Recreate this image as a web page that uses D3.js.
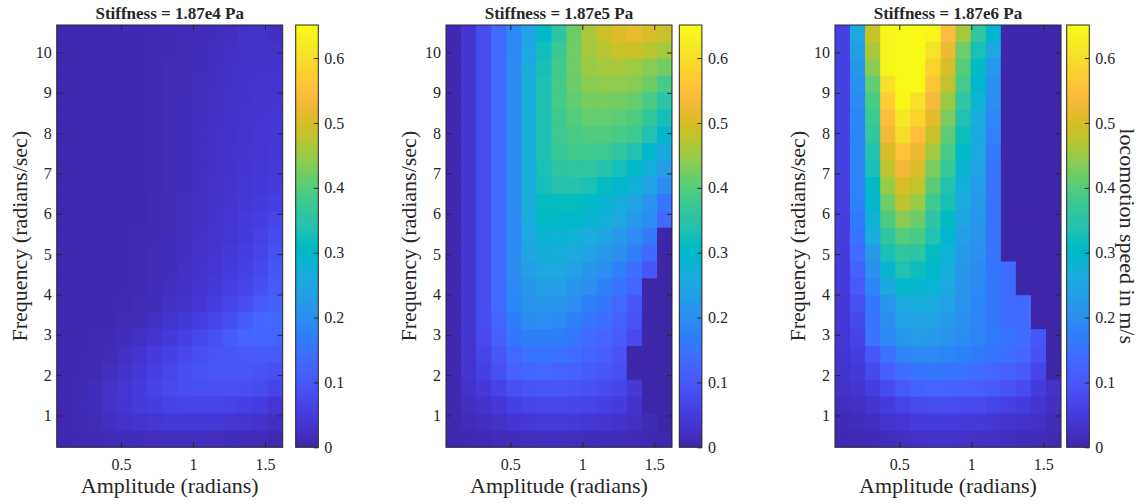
<!DOCTYPE html>
<html>
<head>
<meta charset="utf-8">
<script src="https://cdn.jsdelivr.net/npm/d3@7"></script>
<style>
  body { margin: 0; background: #ffffff; }
  svg text { font-family: "Liberation Serif", "Times New Roman", Times, serif; fill: #262626; }
</style>
</head>
<body>
<svg id="chart" width="1144" height="504"></svg>
<script>
// Sweep grid: amplitude columns (radians) and frequency rows (radians/sec, top row first)
const amplitude = [0.105, 0.209, 0.314, 0.419, 0.524, 0.628, 0.733, 0.838, 0.942, 1.047, 1.152, 1.257, 1.361, 1.466, 1.571];
const frequency = [10.472, 10.053, 9.634, 9.215, 8.796, 8.378, 7.959, 7.540, 7.121, 6.702, 6.283, 5.864, 5.445,
                   5.027, 4.608, 4.189, 3.770, 3.351, 2.932, 2.513, 2.094, 1.676, 1.257, 0.838, 0.419];

// Tick values
const xTicks = [0.5, 1, 1.5];
const yTicks = [1, 2, 3, 4, 5, 6, 7, 8, 9, 10];
const colorTicks = [0, 0.1, 0.2, 0.3, 0.4, 0.5, 0.6];
const colorMax = 0.651;

const titles = ["Stiffness = 1.87e4 Pa", "Stiffness = 1.87e5 Pa", "Stiffness = 1.87e6 Pa"];

// Locomotion speed (m/s), one row per frequency, one column per amplitude
const speedSoft = [
  [0.004,0.004,0.005,0.006,0.008,0.009,0.010,0.012,0.013,0.015,0.018,0.022,0.028,0.030,0.022],
  [0.004,0.004,0.005,0.006,0.008,0.009,0.010,0.012,0.014,0.016,0.020,0.024,0.028,0.030,0.028],
  [0.004,0.004,0.005,0.006,0.008,0.009,0.011,0.013,0.015,0.018,0.022,0.026,0.030,0.032,0.032],
  [0.004,0.004,0.005,0.006,0.008,0.009,0.011,0.013,0.016,0.019,0.023,0.027,0.031,0.034,0.035],
  [0.004,0.004,0.005,0.006,0.007,0.009,0.011,0.013,0.016,0.020,0.024,0.028,0.033,0.036,0.038],
  [0.004,0.004,0.005,0.006,0.007,0.009,0.011,0.013,0.017,0.020,0.025,0.029,0.034,0.037,0.040],
  [0.004,0.004,0.005,0.006,0.007,0.009,0.011,0.014,0.017,0.021,0.026,0.030,0.035,0.039,0.042],
  [0.004,0.004,0.005,0.006,0.007,0.009,0.011,0.014,0.017,0.021,0.026,0.031,0.036,0.040,0.044],
  [0.004,0.004,0.005,0.006,0.007,0.009,0.011,0.014,0.018,0.022,0.027,0.032,0.037,0.042,0.047],
  [0.004,0.004,0.005,0.006,0.007,0.009,0.011,0.014,0.018,0.023,0.028,0.034,0.040,0.045,0.052],
  [0.004,0.004,0.005,0.006,0.007,0.009,0.012,0.015,0.019,0.024,0.030,0.036,0.043,0.050,0.058],
  [0.004,0.004,0.005,0.006,0.007,0.009,0.012,0.015,0.020,0.025,0.032,0.039,0.047,0.056,0.068],
  [0.004,0.004,0.005,0.006,0.008,0.010,0.012,0.016,0.021,0.027,0.034,0.042,0.052,0.063,0.080],
  [0.004,0.004,0.005,0.006,0.008,0.010,0.013,0.017,0.022,0.028,0.036,0.045,0.056,0.068,0.088],
  [0.004,0.004,0.005,0.006,0.008,0.010,0.014,0.018,0.024,0.031,0.040,0.050,0.062,0.076,0.098],
  [0.004,0.004,0.005,0.006,0.008,0.011,0.015,0.020,0.027,0.035,0.046,0.057,0.068,0.084,0.106],
  [0.005,0.005,0.006,0.007,0.010,0.013,0.018,0.025,0.032,0.040,0.055,0.070,0.082,0.105,0.120],
  [0.006,0.006,0.006,0.009,0.013,0.018,0.025,0.035,0.045,0.055,0.070,0.083,0.110,0.130,0.135],
  [0.006,0.006,0.010,0.012,0.018,0.025,0.035,0.046,0.058,0.074,0.088,0.110,0.125,0.130,0.130],
  [0.006,0.007,0.010,0.016,0.025,0.035,0.047,0.060,0.072,0.085,0.097,0.100,0.105,0.105,0.105],
  [0.006,0.008,0.012,0.020,0.030,0.044,0.058,0.072,0.085,0.095,0.100,0.100,0.100,0.095,0.085],
  [0.007,0.010,0.018,0.028,0.040,0.052,0.066,0.078,0.085,0.088,0.088,0.088,0.086,0.080,0.068],
  [0.008,0.012,0.018,0.028,0.037,0.047,0.055,0.064,0.067,0.068,0.068,0.065,0.060,0.054,0.040],
  [0.006,0.010,0.015,0.022,0.030,0.035,0.040,0.043,0.044,0.044,0.043,0.040,0.036,0.032,0.022],
  [0.005,0.007,0.010,0.014,0.017,0.018,0.019,0.020,0.020,0.020,0.019,0.018,0.016,0.014,0.010]
];

const speedMedium = [
  [0.009,0.036,0.083,0.138,0.190,0.245,0.305,0.355,0.420,0.462,0.490,0.505,0.520,0.505,0.488],
  [0.009,0.036,0.083,0.138,0.192,0.252,0.325,0.375,0.423,0.460,0.475,0.490,0.492,0.475,0.462],
  [0.009,0.036,0.083,0.138,0.195,0.262,0.330,0.385,0.422,0.452,0.460,0.462,0.455,0.440,0.425],
  [0.009,0.036,0.083,0.138,0.195,0.270,0.335,0.387,0.420,0.440,0.445,0.445,0.437,0.421,0.390],
  [0.009,0.036,0.083,0.138,0.195,0.270,0.337,0.387,0.410,0.427,0.428,0.424,0.414,0.390,0.352],
  [0.009,0.036,0.083,0.138,0.195,0.270,0.335,0.380,0.400,0.413,0.413,0.407,0.397,0.365,0.328],
  [0.009,0.036,0.083,0.138,0.195,0.270,0.335,0.378,0.390,0.398,0.398,0.390,0.380,0.338,0.298],
  [0.009,0.036,0.083,0.138,0.195,0.270,0.337,0.370,0.382,0.382,0.378,0.360,0.338,0.300,0.262],
  [0.009,0.036,0.083,0.138,0.195,0.270,0.332,0.360,0.363,0.360,0.345,0.328,0.302,0.275,0.235],
  [0.009,0.036,0.083,0.138,0.195,0.268,0.328,0.345,0.343,0.332,0.315,0.300,0.280,0.245,0.200],
  [0.009,0.036,0.083,0.138,0.195,0.265,0.315,0.316,0.315,0.305,0.290,0.275,0.250,0.215,0.155],
  [0.009,0.036,0.083,0.138,0.195,0.262,0.305,0.303,0.300,0.290,0.275,0.255,0.225,0.200,0.135],
  [0.009,0.036,0.083,0.138,0.195,0.255,0.285,0.285,0.280,0.265,0.250,0.225,0.200,0.165,0],
  [0.009,0.036,0.083,0.138,0.195,0.248,0.272,0.272,0.262,0.248,0.228,0.207,0.175,0.137,0],
  [0.009,0.036,0.083,0.138,0.195,0.235,0.255,0.255,0.240,0.222,0.205,0.175,0.145,0.100,0],
  [0.009,0.036,0.083,0.138,0.190,0.222,0.238,0.235,0.222,0.205,0.175,0.155,0.130,0,0],
  [0.009,0.036,0.083,0.135,0.185,0.210,0.218,0.212,0.200,0.175,0.160,0.135,0.100,0,0],
  [0.009,0.036,0.083,0.127,0.170,0.195,0.200,0.193,0.175,0.158,0.145,0.120,0.095,0,0],
  [0.009,0.036,0.078,0.115,0.155,0.172,0.172,0.168,0.160,0.140,0.125,0.110,0.078,0,0],
  [0.009,0.036,0.068,0.100,0.135,0.150,0.155,0.150,0.140,0.127,0.115,0.097,0,0,0],
  [0.009,0.036,0.060,0.088,0.117,0.130,0.133,0.128,0.120,0.110,0.100,0.088,0,0,0],
  [0.008,0.030,0.045,0.066,0.088,0.097,0.100,0.100,0.097,0.090,0.080,0.070,0.045,0,0],
  [0.007,0.022,0.032,0.044,0.060,0.067,0.073,0.073,0.070,0.067,0.060,0.050,0.030,0,0],
  [0.005,0.014,0.020,0.028,0.038,0.043,0.048,0.048,0.045,0.040,0.038,0.032,0.025,0.012,0],
  [0.004,0.008,0.011,0.014,0.018,0.020,0.022,0.022,0.020,0.018,0.017,0.015,0.012,0.008,0.006]
];

const speedStiff = [
  [0.062,0.255,0.490,0.640,0.648,0.648,0.640,0.545,0.462,0.360,0.295,0,0,0,0],
  [0.062,0.238,0.465,0.640,0.648,0.648,0.610,0.525,0.422,0.332,0.255,0,0,0,0],
  [0.062,0.220,0.440,0.640,0.648,0.648,0.585,0.503,0.402,0.305,0.225,0,0,0,0],
  [0.062,0.205,0.410,0.607,0.648,0.648,0.560,0.483,0.388,0.298,0.208,0,0,0,0],
  [0.061,0.195,0.390,0.575,0.645,0.605,0.535,0.452,0.360,0.285,0.200,0,0,0,0],
  [0.060,0.187,0.380,0.548,0.620,0.585,0.515,0.432,0.338,0.268,0.190,0,0,0,0],
  [0.060,0.185,0.362,0.530,0.598,0.550,0.490,0.408,0.322,0.260,0.180,0,0,0,0],
  [0.060,0.185,0.340,0.503,0.560,0.525,0.460,0.390,0.303,0.252,0.168,0,0,0,0],
  [0.060,0.183,0.330,0.480,0.530,0.505,0.430,0.370,0.290,0.240,0.160,0,0,0,0],
  [0.058,0.180,0.305,0.452,0.505,0.482,0.405,0.340,0.275,0.232,0.155,0,0,0,0],
  [0.057,0.177,0.300,0.422,0.478,0.450,0.380,0.330,0.265,0.225,0.155,0,0,0,0],
  [0.055,0.165,0.280,0.397,0.440,0.420,0.355,0.310,0.250,0.218,0.155,0,0,0,0],
  [0.053,0.155,0.265,0.360,0.402,0.390,0.340,0.295,0.237,0.210,0.155,0,0,0,0],
  [0.051,0.140,0.225,0.332,0.362,0.355,0.315,0.282,0.228,0.202,0.158,0,0,0,0],
  [0.049,0.120,0.205,0.290,0.338,0.322,0.300,0.270,0.220,0.195,0.160,0.140,0,0,0],
  [0.047,0.105,0.185,0.255,0.300,0.293,0.285,0.255,0.215,0.190,0.160,0.140,0,0,0],
  [0.044,0.088,0.160,0.220,0.262,0.270,0.265,0.240,0.210,0.185,0.160,0.140,0.138,0,0],
  [0.042,0.075,0.150,0.200,0.240,0.245,0.240,0.225,0.205,0.180,0.160,0.140,0.136,0,0],
  [0.040,0.065,0.150,0.190,0.222,0.232,0.228,0.210,0.195,0.180,0.165,0.155,0.140,0.100,0],
  [0.038,0.055,0.100,0.150,0.180,0.190,0.190,0.185,0.175,0.165,0.155,0.145,0.130,0.090,0],
  [0.033,0.045,0.075,0.115,0.140,0.155,0.160,0.155,0.150,0.142,0.130,0.120,0.105,0.070,0],
  [0.028,0.036,0.055,0.080,0.105,0.120,0.125,0.122,0.120,0.115,0.105,0.095,0.080,0.050,0.030],
  [0.020,0.025,0.036,0.052,0.068,0.078,0.082,0.082,0.080,0.078,0.070,0.060,0.050,0.036,0.022],
  [0.012,0.018,0.022,0.034,0.040,0.047,0.050,0.050,0.048,0.045,0.040,0.035,0.030,0.024,0.016],
  [0.008,0.010,0.012,0.018,0.022,0.028,0.030,0.030,0.028,0.027,0.024,0.020,0.018,0.015,0.010]
];

// Parula colour map, 64 steps
const parula = ["#3e26a8","#402ab4","#422ebf","#4332cb","#4537d5","#463cde","#4741e5","#4747eb",
  "#484df0","#4852f4","#4758f8","#465efb","#4563fd","#4269fe","#3e6fff","#3875fe",
  "#327cfc","#2f81f9","#2d87f7","#2d8cf3","#2b91ef","#2796eb","#259be7","#23a0e5",
  "#20a5e2","#1ca9df","#18addb","#11b1d6","#08b4d0","#01b8ca","#02bac3","#0bbdbc",
  "#19bfb6","#24c1ae","#2cc3a7","#31c69f","#37c897","#3fca8e","#4acb84","#57cc7a",
  "#64cd6f","#71cc64","#80cc59","#8fcb4e","#9dc943","#abc739","#b9c431","#c5c22a",
  "#d1bf27","#dcbd29","#e6bb2d","#efba36","#f8ba3d","#febe3c","#fec338","#fec934",
  "#fccf30","#f9d62d","#f7dc2a","#f5e327","#f5e924","#f5ef20","#f7f51b","#f9fb15"];

const speedPanels = [speedSoft, speedMedium, speedStiff];

const svg = d3.select("#chart");
const defs = svg.append("defs");
const ink = "#262626";

// Panel geometry
const plotLeft = [56.7, 446, 835];
const barLeft = [295.7, 679.3, 1066.7];
const plotTop = 25, plotH = 422.3, plotW = 226, barW = 22.6;

const color = d3.scaleSequential(d3.piecewise(d3.interpolateRgb, parula)).domain([0, colorMax]);

const dA = amplitude[1] - amplitude[0];
const dF = frequency[0] - frequency[1];
const fMin = d3.min(frequency), fMax = d3.max(frequency);

speedPanels.forEach((grid, p) => {
  const x = d3.scaleLinear()
    .domain([amplitude[0] - dA / 2, amplitude[amplitude.length - 1] + dA / 2])
    .range([plotLeft[p], plotLeft[p] + plotW]);
  const y = d3.scaleLinear()
    .domain([fMin - dF / 2, fMax + dF / 2])
    .range([plotTop + plotH, plotTop]);

  defs.append("clipPath").attr("id", `plot-clip-${p}`)
    .append("rect").attr("x", plotLeft[p]).attr("y", plotTop).attr("width", plotW).attr("height", plotH);

  const cells = [];
  grid.forEach((row, i) => row.forEach((v, j) => cells.push({ a: amplitude[j], f: frequency[i], v })));

  // Heat-map cells, each overlapping its neighbour by 1px so no seams show
  svg.append("g").attr("clip-path", `url(#plot-clip-${p})`)
    .selectAll("rect").data(cells).join("rect")
    .attr("x", d => x(d.a - dA / 2))
    .attr("y", d => y(d.f + dF / 2))
    .attr("width", d => x(d.a + dA / 2) - x(d.a - dA / 2) + 1)
    .attr("height", d => y(d.f - dF / 2) - y(d.f + dF / 2) + 1)
    .attr("fill", d => color(d.v));

  // Axes with inward ticks on all four sides
  const bottom = svg.append("g").attr("transform", `translate(0,${plotTop + plotH})`)
    .call(d3.axisBottom(x).tickValues(xTicks).tickSize(-5).tickPadding(11).tickFormat(d3.format("~g")));
  const top = svg.append("g").attr("transform", `translate(0,${plotTop})`)
    .call(d3.axisTop(x).tickValues(xTicks).tickSize(-5).tickFormat(""));
  const left = svg.append("g").attr("transform", `translate(${plotLeft[p]},0)`)
    .call(d3.axisLeft(y).tickValues(yTicks).tickSize(-5).tickPadding(5));
  const right = svg.append("g").attr("transform", `translate(${plotLeft[p] + plotW},0)`)
    .call(d3.axisRight(y).tickValues(yTicks).tickSize(-5).tickFormat(""));
  [bottom, top, left, right].forEach(g => {
    g.select(".domain").remove();
    g.selectAll(".tick line").attr("stroke", ink);
    g.selectAll(".tick text").attr("font-size", 16).attr("fill", ink)
      .style("font-family", "'Liberation Serif', serif");
  });

  svg.append("rect")
    .attr("x", plotLeft[p]).attr("y", plotTop).attr("width", plotW).attr("height", plotH)
    .attr("fill", "none").attr("stroke", ink).attr("stroke-width", 1);

  // Title and axis labels
  svg.append("text")
    .attr("x", plotLeft[p] + plotW / 2).attr("y", 19)
    .attr("text-anchor", "middle").attr("font-size", 17).attr("font-weight", "bold")
    .attr("fill", "#000").text(titles[p]);
  svg.append("text")
    .attr("x", plotLeft[p] + plotW / 2).attr("y", 493)
    .attr("text-anchor", "middle").attr("font-size", 22).text("Amplitude (radians)");
  svg.append("text")
    .attr("transform", `translate(${plotLeft[p] - 30},${plotTop + plotH / 2}) rotate(-90)`)
    .attr("text-anchor", "middle").attr("font-size", 22).text("Frequency (radians/sec)");

  // Colour bar
  const cb = d3.scaleLinear().domain([0, colorMax]).range([plotTop + plotH, plotTop]);
  const steps = d3.range(0, 200).map(k => (k + 0.5) * colorMax / 200);
  svg.append("g")
    .selectAll("rect").data(steps).join("rect")
    .attr("x", barLeft[p]).attr("width", barW)
    .attr("y", d => cb(d + colorMax / 400))
    .attr("height", d => Math.min(cb(d - colorMax / 400) - cb(d + colorMax / 400) + 1,
                                  plotTop + plotH - cb(d + colorMax / 400)))
    .attr("fill", d => color(d));
  const cbAxis = svg.append("g").attr("transform", `translate(${barLeft[p] + barW},0)`)
    .call(d3.axisRight(cb).tickValues(colorTicks).tickSize(-4.5).tickPadding(6).tickFormat(d3.format("~g")));
  cbAxis.select(".domain").remove();
  cbAxis.selectAll(".tick line").attr("stroke", ink);
  cbAxis.selectAll(".tick text").attr("font-size", 16).attr("fill", ink)
    .style("font-family", "'Liberation Serif', serif");
  svg.append("rect")
    .attr("x", barLeft[p]).attr("y", plotTop).attr("width", barW).attr("height", plotH)
    .attr("fill", "none").attr("stroke", ink).attr("stroke-width", 1);

  if (p === 2) {
    svg.append("text")
      .attr("transform", `translate(${barLeft[p] + barW + 31},${plotTop + plotH / 2}) rotate(90)`)
      .attr("text-anchor", "middle").attr("font-size", 22).text("locomotion speed in m/s");
  }
});
</script>
</body>
</html>
